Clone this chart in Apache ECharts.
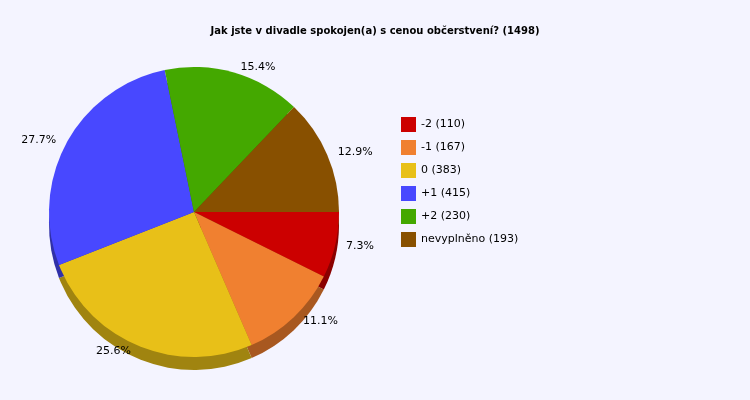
<!DOCTYPE html>
<html><head><meta charset="utf-8">
<script src="https://cdn.jsdelivr.net/npm/echarts@6/dist/echarts.min.js"></script>
<style>html,body{margin:0;background:#f4f4ff}</style></head>
<body><div id="c" style="width:750px;height:400px"></div>
<script>
const categories = ['-2 (110)','-1 (167)','0 (383)','+1 (415)','+2 (230)','nevyplněno (193)'];
const values = [110,167,383,415,230,193];
const colors = ['#cc0000','#f08030','#e8c018','#4848ff','#44a800','#885000'];
const darkColors = ['#8a0000','#a85820','#a08410','#3030a8','#2e7400','#5a3400'];
const total = values.reduce((a,b)=>a+b,0);
const chart = echarts.init(document.getElementById('c'));
const data = categories.map((n,i)=>({name:n,value:values[i],itemStyle:{color:colors[i]}}));
const shadow = categories.map((n,i)=>({name:n,value:values[i],itemStyle:{color:darkColors[i]}}));
chart.setOption({
  backgroundColor:'#f4f4ff',
  animation:false,
  title:{text:'Jak jste v divadle spokojen(a) s cenou občerstvení? (1498)',left:'center',top:21,
    textStyle:{fontSize:10,fontWeight:'bold',color:'#000',fontFamily:'DejaVu Sans'}},
  legend:{orient:'vertical',left:396,top:112,itemWidth:15,itemHeight:15,itemGap:8,
    icon:'rect',data:categories,textStyle:{fontSize:11,fontFamily:'DejaVu Sans',color:'#000'}},
  series:[
    {type:'pie',z:3,center:[194,212],radius:145,startAngle:0,clockwise:true,
     label:{show:true,position:'outside',formatter:p=>(p.value/total*100).toFixed(1)+'%',
       fontSize:11,fontFamily:'DejaVu Sans',color:'#000'},
     labelLine:{show:false,length:6,length2:0},data:data},
    {type:'pie',z:1,silent:true,center:[194,225],radius:145,startAngle:0,clockwise:true,
     label:{show:false},labelLine:{show:false},data:shadow,legendHoverLink:false}
  ]
});
</script></body></html>
